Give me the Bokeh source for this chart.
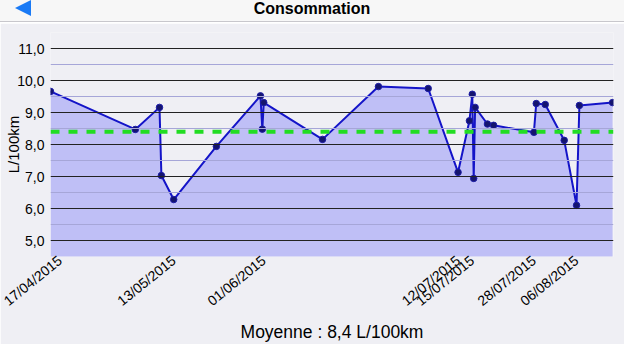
from bokeh.plotting import figure
from bokeh.layouts import column
from bokeh.models import FixedTicker, Span, Title, Div
from bokeh.embed import file_html
from bokeh.resources import INLINE

# ---- data ----
days = [0, 17.9, 23.0, 23.4, 26.0, 35.0, 44.3, 44.7, 45.0, 57.4, 69.2, 79.7,
        86.0, 88.4, 89.0, 89.3, 89.6, 92.2, 93.5, 102.0, 102.5, 104.4, 108.4,
        111.0, 111.6, 118.6]
conso = [9.66, 8.47, 9.16, 7.03, 6.28, 7.94, 9.52, 8.48, 9.31, 8.16, 9.81, 9.75,
         7.13, 8.74, 9.57, 6.94, 9.16, 8.64, 8.60, 8.38, 9.28, 9.25, 8.13,
         6.10, 9.22, 9.31]
moyenne = 8.4
tick_days = [0, 26, 45, 86, 89, 102, 111]
tick_labels = ["17/04/2015", "13/05/2015", "01/06/2015", "12/07/2015",
               "15/07/2015", "28/07/2015", "06/08/2015"]
y_ticks = [5, 6, 7, 8, 9, 10, 11]
y_minor = [4.5, 5.5, 6.5, 7.5, 8.5, 9.5, 10.5, 11.5]
y_labels = ["5,0", "6,0", "7,0", "8,0", "9,0", "10,0", "11,0"]
title_text = "Consommation"
footer_text = "Moyenne : 8,4 L/100km"
y_title = "L/100km"

FONT = "Liberation Sans"
BG = "#efeff4"

# ---- header (iOS navigation bar) ----
header_html = (
    '<div style="position:relative;width:624px;height:22px;background:#f7f7f7;'
    'border-bottom:1px solid #c8c7cc;font-family:\'Liberation Sans\';">'
    '<div style="position:absolute;left:15px;top:0px;width:0;height:0;'
    'border-top:8px solid transparent;border-bottom:8px solid transparent;'
    'border-right:16px solid #1a7af5;"></div>'
    '<div style="position:absolute;left:0;top:0px;width:624px;text-align:center;'
    'font-size:16px;font-weight:bold;line-height:17px;color:#000;">'
    + title_text + '</div></div>'
)
header = Div(text=header_html, width=624, height=23, margin=0)

# ---- main chart ----
p = figure(width=624, height=321, x_range=(0, 118.8), y_range=(4.5, 11.5),
           output_backend="svg", toolbar_location=None,
           min_border_left=50, min_border_right=11, min_border_top=9,
           min_border_bottom=88,
           background_fill_color=BG, border_fill_color=BG,
           outline_line_color=None)

p.varea(x=days, y1=0, y2=conso, fill_color="#0000ff", fill_alpha=0.2)
p.line(x=days, y=conso, line_color="#1414c8", line_width=2)
p.scatter(x=days, y=conso, size=6.5, fill_color="#14146e", line_color="#1c1ca8",
          line_width=1)
p.add_layout(Span(location=moyenne, dimension="width", line_color="#22dd22",
                  line_width=4, line_dash="9 9"))

p.ygrid.ticker = FixedTicker(ticks=y_ticks, minor_ticks=y_minor)
p.ygrid.grid_line_color = "#222222"
p.ygrid.grid_line_width = 1
p.ygrid.minor_grid_line_color = "#a6a6d8"
p.ygrid.minor_grid_line_width = 1
p.ygrid.level = "glyph"
p.xgrid.visible = False

p.yaxis.ticker = FixedTicker(ticks=y_ticks)
p.yaxis.major_label_overrides = {t: l for t, l in zip(y_ticks, y_labels)}
p.yaxis.axis_label = y_title
p.yaxis.axis_label_text_font = FONT
p.yaxis.axis_label_text_font_size = "15px"
p.yaxis.axis_label_text_font_style = "normal"
p.yaxis.axis_label_text_color = "#000000"
p.yaxis.axis_label_standoff = -8
p.yaxis.major_label_text_font = FONT
p.yaxis.major_label_text_font_size = "14px"
p.yaxis.major_label_text_color = "#000000"
p.yaxis.major_label_standoff = 6
p.yaxis.axis_line_color = None
p.yaxis.major_tick_line_color = None
p.yaxis.minor_tick_line_color = None
p.yaxis.major_tick_out = 0
p.yaxis.major_tick_in = 0
p.yaxis.minor_tick_out = 0

p.xaxis.ticker = FixedTicker(ticks=tick_days)
p.xaxis.major_label_overrides = {t: l for t, l in zip(tick_days, tick_labels)}
p.xaxis.major_label_orientation = 0.68
p.xaxis.major_label_text_font = FONT
p.xaxis.major_label_text_font_size = "14px"
p.xaxis.major_label_text_color = "#000000"
p.xaxis.major_label_standoff = 2
p.xaxis.axis_line_color = None
p.xaxis.major_tick_line_color = None
p.xaxis.minor_tick_line_color = None
p.xaxis.major_tick_out = 0
p.xaxis.major_tick_in = 0
p.xaxis.minor_tick_out = 0

p.add_layout(Title(text=footer_text, align="center", text_font=FONT,
                   text_font_size="17.5px", text_font_style="normal",
                   text_color="#000000", standoff=4), "below")

layout = column(header, p, spacing=0)
open("out.html", "w").write(file_html(layout, INLINE))
